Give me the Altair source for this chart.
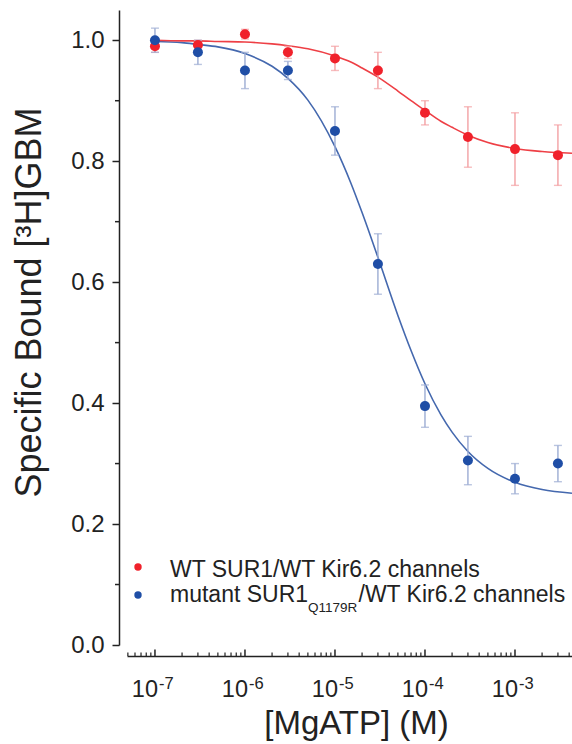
import altair as alt
import pandas as pd

# ---------------- data ----------------
conc = [1e-7, 3e-7, 1e-6, 3e-6, 1e-5, 3e-5, 1e-4, 3e-4, 1e-3, 3e-3]
wt_mean = [0.99, 0.992, 1.01, 0.98, 0.97, 0.95, 0.88, 0.84, 0.82, 0.81]
wt_err = [0.01, 0.008, 0.008, 0.01, 0.02, 0.03, 0.02, 0.05, 0.06, 0.05]
mut_mean = [1.00, 0.98, 0.95, 0.95, 0.85, 0.63, 0.395, 0.305, 0.275, 0.30]
mut_err = [0.02, 0.02, 0.03, 0.015, 0.04, 0.05, 0.035, 0.04, 0.025, 0.03]

curve_conc = [1e-7, 2e-7, 3e-7, 5e-7, 1e-6, 2e-6, 3e-6, 5e-6, 1e-5, 1.5e-5, 2e-5,
              3e-5, 5e-5, 7e-5, 1e-4, 1.5e-4, 2e-4, 3e-4, 5e-4, 1e-3, 2e-3, 4.3e-3]
wt_curve = [1.000, 0.999, 0.999, 0.998, 0.997, 0.994, 0.991, 0.986, 0.974, 0.964, 0.954,
            0.939, 0.916, 0.900, 0.884, 0.866, 0.856, 0.843, 0.831, 0.821, 0.816, 0.813]
mut_curve = [0.998, 0.996, 0.993, 0.989, 0.978, 0.957, 0.937, 0.901, 0.824, 0.764, 0.715,
             0.641, 0.545, 0.487, 0.432, 0.381, 0.352, 0.320, 0.292, 0.269, 0.257, 0.251]

major_ticks = [1e-7, 1e-6, 1e-5, 1e-4, 1e-3]
major_exp = ["-7", "-6", "-5", "-4", "-3"]
minor_ticks = [5e-8, 6e-8, 7e-8, 8e-8, 9e-8,
               2e-7, 3e-7, 4e-7, 5e-7, 6e-7, 7e-7, 8e-7, 9e-7,
               2e-6, 3e-6, 4e-6, 5e-6, 6e-6, 7e-6, 8e-6, 9e-6,
               2e-5, 3e-5, 4e-5, 5e-5, 6e-5, 7e-5, 8e-5, 9e-5,
               2e-4, 3e-4, 4e-4, 5e-4, 6e-4, 7e-4, 8e-4, 9e-4,
               2e-3, 3e-3, 4e-3]
y_major = [0.0, 0.2, 0.4, 0.6, 0.8, 1.0]
y_minor = [0.1, 0.3, 0.5, 0.7, 0.9]

legend_wt = "WT SUR1/WT Kir6.2 channels"
legend_mut_a = "mutant SUR1"
legend_mut_sub = "Q1179R"
legend_mut_b = "/WT Kir6.2 channels"

# ---------------- styling ----------------
FONT = "Liberation Sans"
INK = "#222222"
RED = "#F0212B"
BLUE = "#1F4EA6"
RED_LINE = "#EE3F45"
BLUE_LINE = "#4468AE"
RED_ERR = "#F3A0A3"
BLUE_ERR = "#9CACD3"
W, H = 445, 635

xscale = alt.Scale(type="log", domain=[4.89e-8, 4.3e-3], nice=False)
yscale = alt.Scale(domain=[0, 1.05], nice=False, zero=False)

wt = pd.DataFrame({"conc": conc, "mean": wt_mean, "err": wt_err})
mut = pd.DataFrame({"conc": conc, "mean": mut_mean, "err": mut_err})
for d in (wt, mut):
    d["lo"] = d["mean"] - d["err"]
    d["hi"] = d["mean"] + d["err"]

curves = pd.DataFrame({"conc": curve_conc, "wt": wt_curve, "mut": mut_curve})

X_AXIS = dict(offset=11, ticks=False, labels=False, domain=True, domainWidth=1.5,
              domainColor=INK, grid=False, title="[MgATP] (M)", titleFont=FONT,
              titleFontSize=33, titleFontWeight="normal", titleColor=INK,
              titleX=229, titleY=77, titleAlign="center", titleBaseline="alphabetic")
Y_AXIS = dict(values=y_major, format=".1f", offset=8, tickSize=7, tickWidth=1.5,
              tickColor=INK, domainWidth=1.5, domainColor=INK, labelFont=FONT,
              labelFontSize=24, labelColor=INK, labelPadding=8, grid=False,
              title="Specific Bound [³H]GBM", titleFont=FONT, titleFontSize=36,
              titleFontWeight="normal", titleColor=INK, titleAngle=270,
              titleX=-79, titleY=292, titleAlign="center", titleBaseline="alphabetic")


def X(field="conc"):
    return alt.X(f"{field}:Q", scale=xscale, axis=alt.Axis(**X_AXIS))


def Y(field):
    return alt.Y(f"{field}:Q", scale=yscale, axis=alt.Axis(**Y_AXIS))


blue_curve = alt.Chart(curves).mark_line(color=BLUE_LINE, strokeWidth=1.6, interpolate="monotone").encode(
    x=X(), y=Y("mut"))
red_curve = alt.Chart(curves).mark_line(color=RED_LINE, strokeWidth=1.6, interpolate="monotone").encode(
    x=X(), y=Y("wt"))


def errbars(df, color):
    rule = alt.Chart(df).mark_rule(color=color, strokeWidth=1.4).encode(
        x=X(), y=Y("lo"), y2="hi:Q")
    cap_lo = alt.Chart(df).mark_tick(color=color, orient="horizontal", size=8, thickness=1.4).encode(
        x=X(), y=Y("lo"))
    cap_hi = alt.Chart(df).mark_tick(color=color, orient="horizontal", size=8, thickness=1.4).encode(
        x=X(), y=Y("hi"))
    return rule + cap_lo + cap_hi


red_pts = alt.Chart(wt).mark_point(filled=True, color=RED, size=100, opacity=1).encode(
    x=X(), y=Y("mean"))
blue_pts = alt.Chart(mut).mark_point(filled=True, color=BLUE, size=100, opacity=1).encode(
    x=X(), y=Y("mean"))

# x-axis ticks pointing inward (up)
maj_df = pd.DataFrame({"conc": major_ticks, "base": ["10"] * len(major_ticks), "exp": major_exp})
min_df = pd.DataFrame({"conc": minor_ticks})
x_major = alt.Chart(maj_df).mark_rule(color=INK, strokeWidth=1.5).encode(
    x=X(), y=alt.value(H + 11 - 6.5), y2=alt.value(H + 11))
x_minor = alt.Chart(min_df).mark_rule(color=INK, strokeWidth=1.2).encode(
    x=X(), y=alt.value(H + 11 - 3.5), y2=alt.value(H + 11))
x_base = alt.Chart(maj_df).mark_text(font=FONT, fontSize=23.5, color=INK, align="right",
                                     baseline="alphabetic", dx=3).encode(
    x=X(), y=alt.value(687), text="base:N")
x_exp = alt.Chart(maj_df).mark_text(font=FONT, fontSize=16.5, color=INK, align="left",
                                    baseline="alphabetic", dx=4).encode(
    x=X(), y=alt.value(679), text="exp:N")

# y minor ticks
ymin_df = pd.DataFrame({"v": y_minor})
y_minor_ticks = alt.Chart(ymin_df).mark_rule(color=INK, strokeWidth=1.5).encode(
    y=Y("v"), x=alt.value(-12), x2=alt.value(-8))


# legend
def txt(s, x, y, size):
    return alt.Chart(pd.DataFrame({"t": [s]})).mark_text(
        font=FONT, fontSize=size, color=INK, align="left", baseline="alphabetic").encode(
        text="t:N", x=alt.value(x), y=alt.value(y))


def dot(color, y):
    return alt.Chart(pd.DataFrame({"t": [0]})).mark_point(
        filled=True, color=color, size=55, opacity=1).encode(x=alt.value(11), y=alt.value(y))


legend = (dot(RED, 557) + dot(BLUE, 585)
          + txt(legend_wt, 43, 567, 23)
          + txt(legend_mut_a, 43, 592, 23)
          + txt(legend_mut_sub, 181, 602, 13.5)
          + txt(legend_mut_b, 231.5, 592, 23))

chart = alt.layer(
    blue_curve, red_curve,
    errbars(wt, RED_ERR), errbars(mut, BLUE_ERR),
    red_pts, blue_pts,
    x_major, x_minor, x_base, x_exp, y_minor_ticks,
    legend,
).properties(
    width=W, height=H,
    padding={"left": 127, "top": 10, "right": 0, "bottom": 99},
    autosize=alt.AutoSizeParams(type="none"),
    background="white",
).configure_view(stroke=None)

chart.save("out.html", embed_options={"renderer": "svg", "actions": False})
